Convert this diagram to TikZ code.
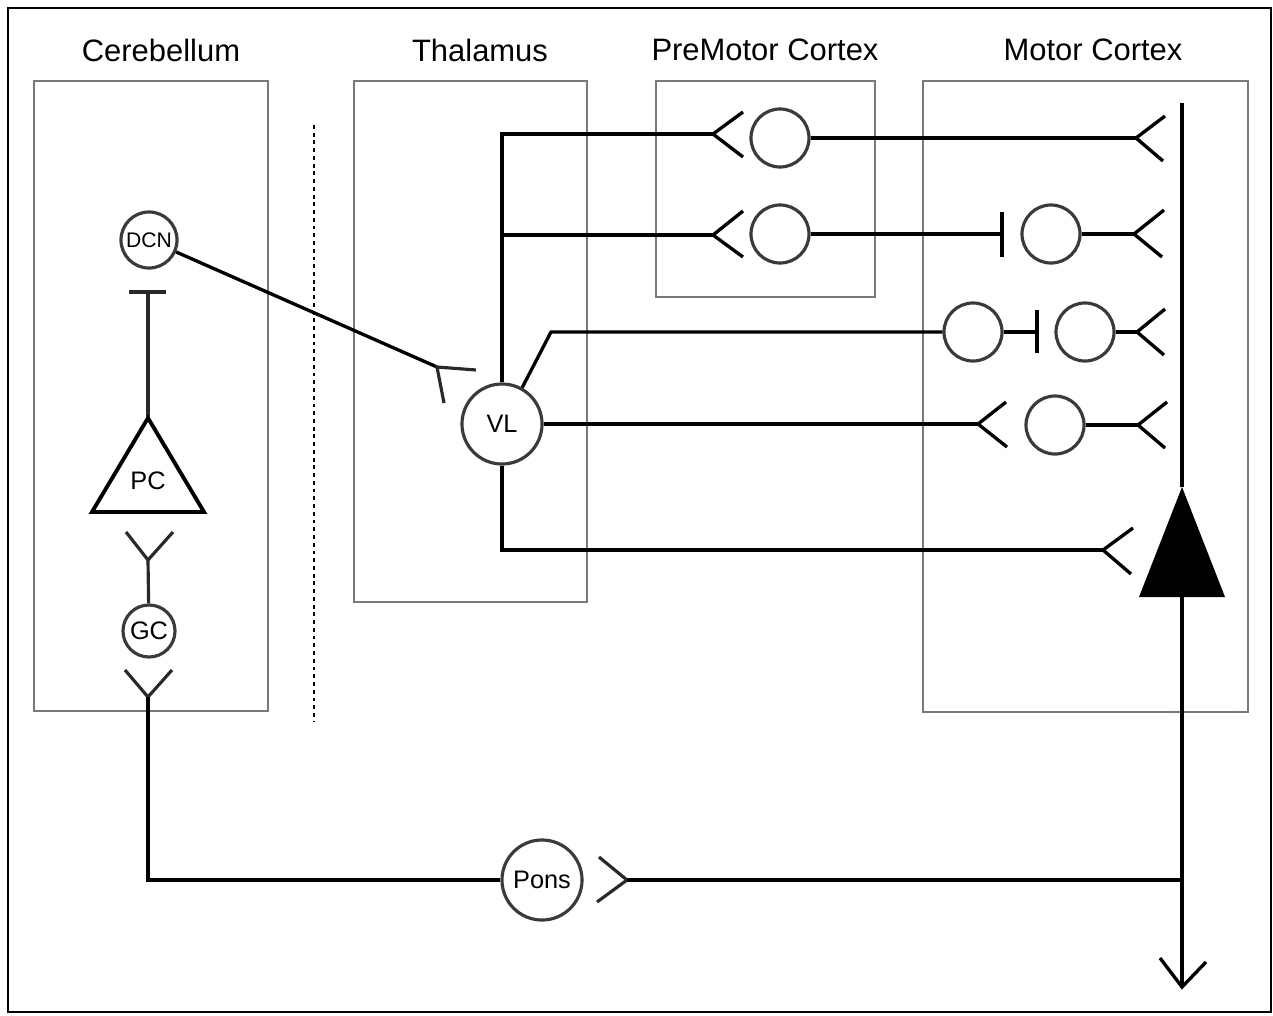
\documentclass[tikz,border=0pt]{standalone}
\usepackage{fontspec}
\setmainfont{Liberation Sans}
\definecolor{cellclr}{RGB}{62,57,55}
\definecolor{boxclr}{RGB}{125,120,120}
\definecolor{synclr}{RGB}{45,40,40}
\begin{document}
\begin{tikzpicture}[x=0.01cm,y=-0.01cm,
  axon/.style={line width=0.95pt,draw=black},
  syn/.style={line width=0.9pt,draw=synclr},
  bsyn/.style={line width=0.95pt,draw=black},
  cell/.style={circle,draw=cellclr,line width=0.9pt,inner sep=0pt,minimum size=0.58cm,
    font=\fontsize{7.2}{8}\selectfont},
  region/.style={draw=boxclr,line width=0.6pt},
  title/.style={font=\fontsize{8.8}{10}\selectfont}]
\useasboundingbox (0,0) rectangle (1273,1015);
\draw[line width=0.7pt] (8,8) rectangle (1271,1012);

% regions
\draw[region] (34,81) rectangle (268,711);
\draw[region] (354,81) rectangle (587,602);
\draw[region] (656,81) rectangle (875,297);
\draw[region] (923,81) rectangle (1248,712);
\node[title] (tcb) at (161,50) {Cerebellum};
\node[title] (tth) at (480,50) {Thalamus};
\node[title] (tpm) at (765,50) {PreMotor Cortex};
\node[title] (tmc) at (1093,50) {Motor Cortex};
\draw[line width=0.6pt,dash pattern=on 1.1pt off 1.1pt] (314,125) -- (314,722);

% cerebellum
\node[cell,minimum size=0.56cm,font=\fontsize{6}{6}\selectfont] (dcn) at (149,240) {DCN};
\coordinate (pcapex) at (148,418);
\coordinate (tbar) at (148,292);
\draw[syn] (129,292) -- (166,292);
\draw[syn] (tbar) -- (pcapex);
\draw[line width=1.1pt,line join=miter] (pcapex) -- (204,512) -- (92,512) -- cycle;
\node[font=\fontsize{7.2}{8}\selectfont] (pc) at (148,481) {PC};
\node[cell,minimum size=0.52cm] (gc) at (149,631) {GC};
\coordinate (ya) at (148,560);
\draw[syn] (126,532) -- (ya) -- (173,532);
\draw[syn] (ya) -- (gc);
\coordinate (yb) at (148,697);
\draw[syn] (125,670) -- (yb) -- (172,670);

% pons
\node[cell,minimum size=0.8cm] (pons) at (542,880) {Pons};
\draw[axon] (yb) |- (pons.west);
\coordinate (pexc) at (627,880);
\draw[syn] (599,857) -- (pexc) -- (597,902);
\coordinate (mjoin) at (1183,880);
\draw[axon] (pexc) -- (mjoin);

% motor cortex main neuron
\coordinate (mtop) at (1182,103);
\coordinate (apex) at (1182,487);
\coordinate (mbase) at (1182,597);
\coordinate (mtip) at (1182,987);
\draw[axon] (mtop) -- (apex);
\fill (apex) -- (1225,597) -- (1139,597) -- cycle;
\draw[axon] (mbase) -- (mtip);
\draw[axon] (1160,958) -- (mtip) -- (1206,962);

% DCN -> VL
\node[cell,minimum size=0.8cm] (vl) at (502,424) {VL};
\coordinate (dcny) at (437,367);
\draw[axon] (dcn) -- (dcny);
\draw[syn] (476,370) -- (dcny) -- (444,403);

% row 1
\node[cell] (pm1) at (780,138) {};
\coordinate (vtop) at (502,134);
\coordinate (pm1in) at (713,134);
\draw[axon] (vl.north) -- (vtop) -- (pm1in);
\draw[bsyn] (743,112) -- (pm1in) -- (743,157);
\coordinate (mc1in) at (1136,138);
\draw[axon] (pm1.east) -- (mc1in);
\draw[bsyn] (1165,116) -- (mc1in) -- (1163,161);

% row 2
\node[cell] (pm2) at (780,234) {};
\coordinate (vbr) at (502,235);
\coordinate (pm2in) at (713,235);
\draw[axon] (vbr) -- (pm2in);
\draw[bsyn] (743,211) -- (pm2in) -- (743,257);
\node[cell] (mc2) at (1051,234) {};
\coordinate (bar2) at (1002,234);
\draw[axon] (pm2.east) -- (bar2);
\draw[bsyn] (1002,212) -- (1002,257);
\coordinate (mc2in) at (1134,234);
\draw[axon] (mc2.east) -- (mc2in);
\draw[bsyn] (1164,210) -- (mc2in) -- (1162,257);

% row 3
\node[cell] (mc3a) at (973,332) {};
\node[cell] (mc3b) at (1085,332) {};
\coordinate (bend3) at (551,332);
\draw[axon] (vl.61) -- (bend3) -- (mc3a.west);
\coordinate (bar3) at (1037,332);
\draw[axon] (mc3a.east) -- (bar3);
\draw[bsyn] (1037,310) -- (1037,353);
\coordinate (mc3in) at (1137,332);
\draw[axon] (mc3b.east) -- (mc3in);
\draw[bsyn] (1165,309) -- (mc3in) -- (1164,355);

% row 4
\node[cell] (mc4) at (1055,425) {};
\coordinate (mc4syn) at (978,424);
\draw[axon] (vl.east) -- (mc4syn);
\draw[bsyn] (1006,402) -- (mc4syn) -- (1007,447);
\coordinate (mc4in) at (1138,425);
\draw[axon] (mc4.east) -- (mc4in);
\draw[bsyn] (1167,402) -- (mc4in) -- (1165,448);

% row 5
\coordinate (mc5in) at (1103,550);
\draw[axon] (vl.south) |- (mc5in);
\draw[bsyn] (1133,528) -- (mc5in) -- (1131,574);
\end{tikzpicture}
\end{document}
